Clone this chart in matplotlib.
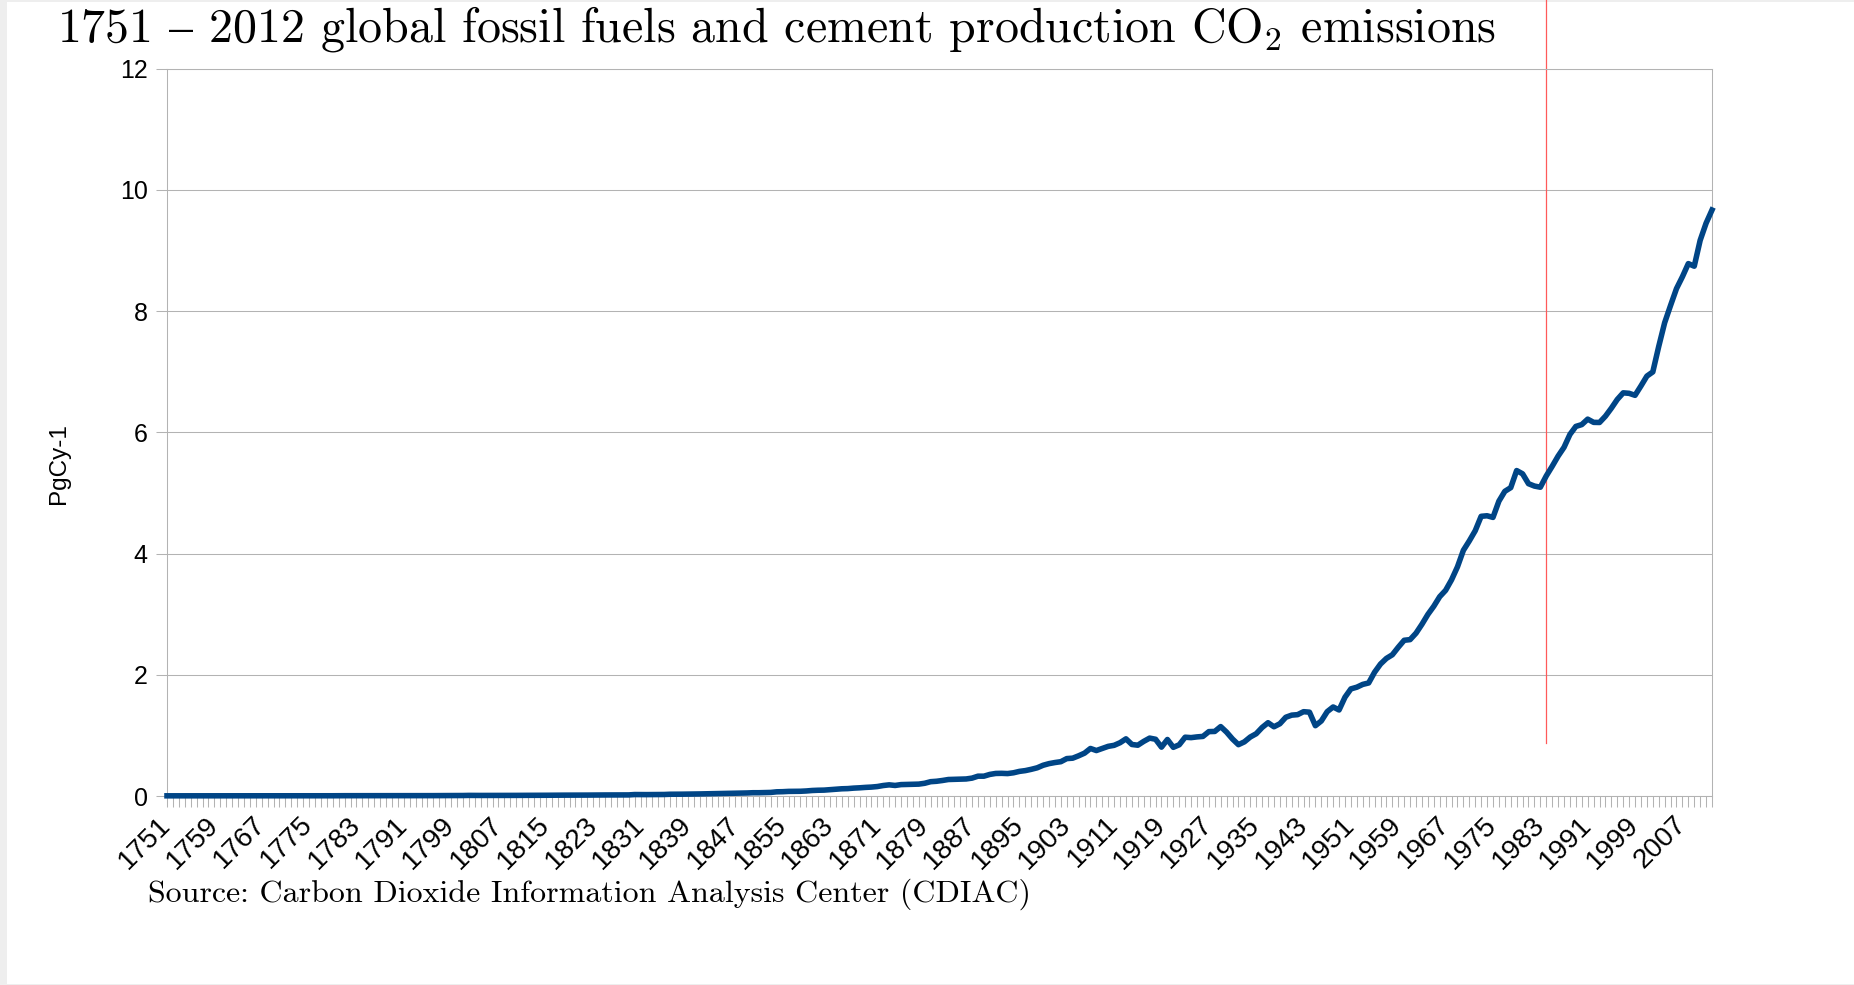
import numpy as np
import matplotlib
matplotlib.use('Agg')
import matplotlib.pyplot as plt
from matplotlib.patches import Rectangle

# global fossil fuel + cement CO2 emissions, MtC per year, 1751..2012 (CDIAC)
years = np.arange(1751, 2013)
emissions_mtc = [
    3, 3, 3, 3, 3, 3, 3, 3, 3, 3,
    3, 3, 3, 3, 3, 3, 4, 4, 4, 4,
    4, 4, 4, 4, 4, 4, 4, 4, 4, 5,
    5, 5, 5, 5, 5, 5, 5, 5, 5, 5,
    6, 6, 6, 6, 6, 6, 7, 7, 7, 8,
    8, 10, 9, 9, 9, 10, 10, 10, 10, 10,
    11, 11, 11, 11, 12, 13, 14, 14, 14, 14,
    14, 15, 16, 16, 17, 17, 18, 18, 18, 24,
    23, 23, 24, 24, 25, 29, 29, 30, 31, 33,
    34, 36, 37, 39, 43, 43, 46, 47, 50, 54,
    54, 57, 59, 69, 71, 76, 77, 78, 83, 91,
    95, 97, 104, 112, 119, 122, 130, 135, 142, 147,
    156, 173, 184, 174, 188, 191, 194, 196, 210, 236,
    243, 256, 272, 275, 277, 281, 295, 327, 327, 356,
    372, 374, 370, 383, 406, 419, 440, 465, 507, 534,
    552, 566, 617, 624, 663, 707, 784, 750, 785, 819,
    836, 879, 943, 850, 838, 901, 955, 936, 806, 932,
    803, 845, 970, 963, 975, 983, 1062, 1065, 1145, 1053,
    940, 847, 893, 973, 1027, 1130, 1209, 1142, 1192, 1299,
    1334, 1342, 1391, 1383, 1160, 1238, 1392, 1469, 1419, 1630,
    1767, 1795, 1841, 1865, 2042, 2177, 2270, 2330, 2454, 2569,
    2580, 2686, 2833, 2995, 3130, 3288, 3393, 3566, 3780, 4053,
    4208, 4376, 4614, 4623, 4596, 4864, 5026, 5087, 5369, 5315,
    5152, 5113, 5094, 5280, 5439, 5607, 5752, 5965, 6097, 6127,
    6217, 6164, 6162, 6266, 6398, 6542, 6651, 6643, 6610, 6765,
    6927, 6996, 7416, 7807, 8093, 8370, 8566, 8783, 8740, 9167,
    9449, 9667,
]
emissions = np.array(emissions_mtc) / 1000.0  # PgC

label_years = list(range(1751, 2013, 8))
y_ticks = [0, 2, 4, 6, 8, 10, 12]

marker_year = 1984
marker_low = 0.88

title = '1751 $\u2013$ 2012 global fossil fuels and cement production CO$_2$ emissions'
source = 'Source: Carbon Dioxide Information Analysis Center (CDIAC)'
ylabel = 'PgCy-1'

W, H = 1854, 985
grey = '#b3b3b3'
sans = ['Liberation Sans', 'DejaVu Sans']
serif = ['cmr10', 'DejaVu Serif']
plt.rcParams['mathtext.fontset'] = 'cm'
plt.rcParams['font.family'] = sans

fig = plt.figure(figsize=(W / 100, H / 100), dpi=100)
fig.patch.set_facecolor('white')

# light frame strips at the image edges
for (x0, y0, w, h) in [(0, 0, 7, H), (0, H - 2, W, 2), (0, 0, W, 1.5)]:
    fig.add_artist(Rectangle((x0 / W, y0 / H), w / W, h / H, transform=fig.transFigure,
                             color='#eeeeee', lw=0, zorder=0))

ax = fig.add_axes([167 / W, 1 - 796 / H, (1712 - 167) / W, (796 - 68.6) / H])

ax.plot(years, emissions, color='#004586', lw=4, solid_joinstyle='round', zorder=3, clip_on=False)

pos = ax.get_position()
ax.axvline(marker_year, ymin=marker_low / y_ticks[-1], ymax=(1 - pos.y0) / pos.height,
           color='#ff5a5a', lw=0.9, clip_on=False, zorder=2)

ax.set_xlim(years[0], years[-1])
ax.set_ylim(y_ticks[0], y_ticks[-1])

ax.tick_params(axis='x', which='both', direction='out', length=7.9, width=0.75, color=grey, pad=10)
ax.tick_params(axis='y', which='both', direction='out', length=7.8, width=0.75, color=grey, pad=6)

ax.set_yticks(y_ticks)
ax.set_yticklabels([str(v) for v in y_ticks], fontsize=18)
ax.set_xticks(years, minor=True)
ax.set_xticks(label_years)
ax.set_xticklabels([str(y) for y in label_years], fontsize=20)
plt.setp(ax.get_xticklabels(), rotation=45, ha='right', va='center', rotation_mode='anchor',
         fontsize=20)

ax.grid(axis='y', color=grey, lw=0.75, zorder=1)
ax.set_axisbelow(True)
for s in ax.spines.values():
    s.set_color(grey)
    s.set_linewidth(0.75)

fig.text(57 / W, 1 - 41.7 / H, title, family=serif, fontsize=34.5, ha='left', va='baseline')
fig.text(148 / W, 1 - 902 / H, source, family=serif, fontsize=23, ha='left', va='baseline')
fig.text(59 / W, 1 - 464 / H, ylabel, fontsize=17.5, rotation=90, ha='center', va='center')

fig.savefig('out.png', dpi=100)
